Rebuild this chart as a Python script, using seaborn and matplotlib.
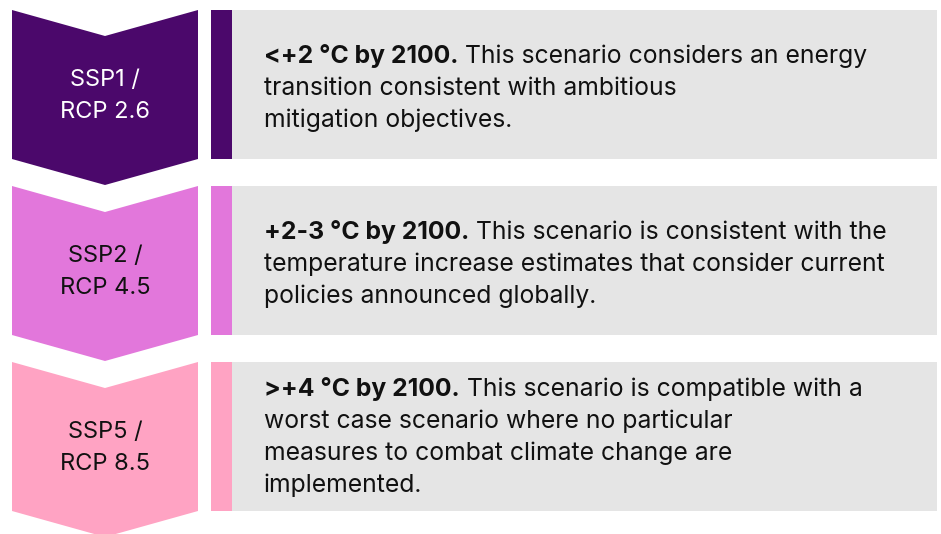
import matplotlib
matplotlib.use("Agg")
import matplotlib.pyplot as plt
import seaborn as sns
from matplotlib.patches import Polygon, Rectangle

# scenario data
labels = ["SSP1 /\nRCP 2.6", "SSP2 /\nRCP 4.5", "SSP5 /\nRCP 8.5"]
headlines = ["<+2 °C by 2100.", "+2-3 °C by 2100.", ">+4 °C by 2100."]
bodies = [
    [" This scenario considers an energy",
     "transition consistent with ambitious",
     "mitigation objectives."],
    [" This scenario is consistent with the",
     "temperature increase estimates that consider current",
     "policies announced globally."],
    [" This scenario is compatible with a",
     "worst case scenario where no particular",
     "measures to combat climate change are",
     "implemented."],
]
colors = ["#4B086B", "#E277DB", "#FFA3C3"]
label_colors = ["white", "#111111", "#111111"]
panel_grey = "#E5E5E5"

sns.set_theme(style="white")
plt.rcParams['font.family'] = ['Inter', 'DejaVu Sans']

fig = plt.figure(figsize=(9.41, 5.34), dpi=100)
ax = fig.add_axes([0, 0, 1, 1])
ax.set_xlim(0, 941)
ax.set_ylim(534, 0)
ax.axis('off')

step, h, notch = 176, 149, 26
xl, xr = 12, 198
xm = (xl + xr) / 2
line_gap = 32
body_size = 17.8

for i, (lab, head, body, col, lc) in enumerate(zip(labels, headlines, bodies, colors, label_colors)):
    top = 10 + i * step
    chev = Polygon([(xl, top), (xm, top + notch), (xr, top), (xr, top + h),
                    (xm, top + h + notch), (xl, top + h)], closed=True,
                   facecolor=col, edgecolor='none')
    ax.add_patch(chev)
    ax.text(xm, top + 86, lab, ha='center', va='center', color=lc,
            fontsize=17, linespacing=1.55, multialignment='center')

    ax.add_patch(Rectangle((211, top), 21, h, facecolor=col, edgecolor='none'))
    ax.add_patch(Rectangle((232, top), 937 - 232, h, facecolor=panel_grey, edgecolor='none'))

    n = len(body)
    mid = top + 77 - (n - 3) * 3
    for k, line in enumerate(body):
        yb = mid + (k - (n - 1) / 2) * line_gap + 8
        if k == 0:
            t = ax.text(264, yb, head, ha='left', va='baseline', fontsize=body_size,
                        fontweight='bold', color='#111111')
            fig.canvas.draw()
            bb = t.get_window_extent(renderer=fig.canvas.get_renderer())
            xend = ax.transData.inverted().transform((bb.x1, bb.y0))[0]
            ax.text(xend, yb, line, ha='left', va='baseline', fontsize=body_size, color='#111111')
        else:
            ax.text(264, yb, line, ha='left', va='baseline', fontsize=body_size, color='#111111')

fig.savefig("out.png", dpi=100)
